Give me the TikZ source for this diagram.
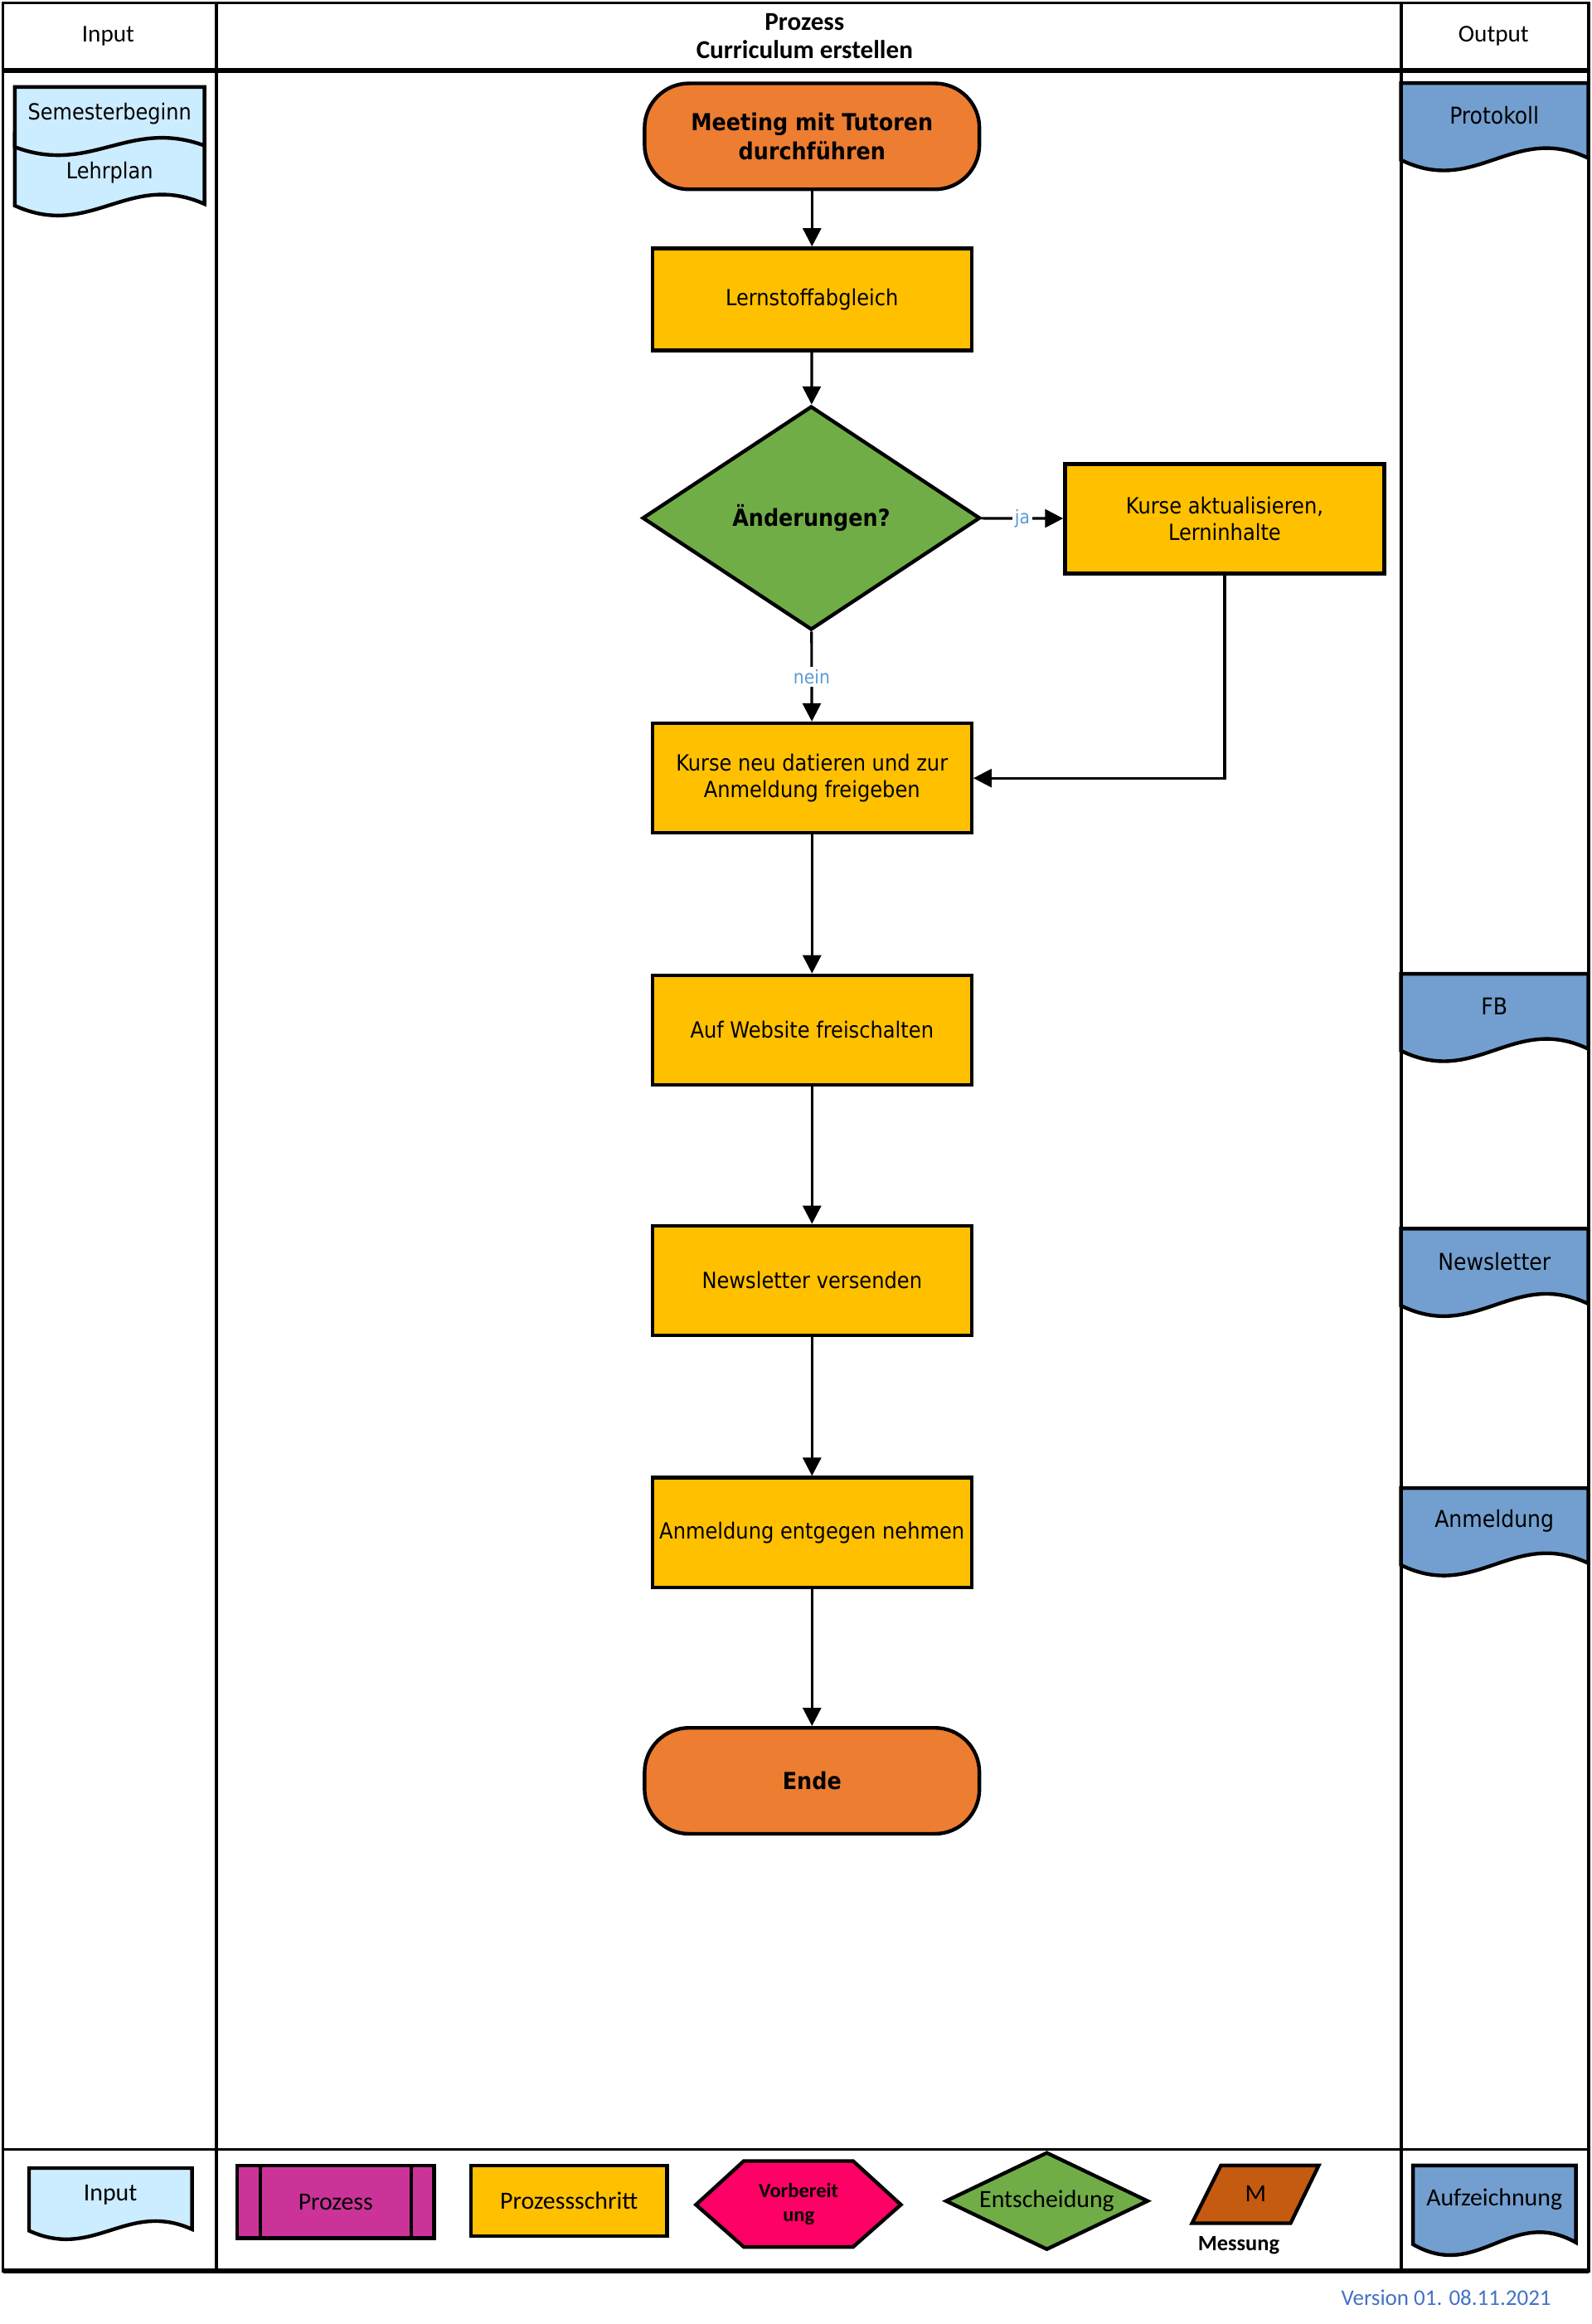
\documentclass[tikz,border=0pt]{standalone}
\usepackage{fontspec}
\setmainfont{Carlito}
\newfontfamily\tahoma{DejaVu Sans Condensed}
\usetikzlibrary{shapes.geometric,arrows.meta}

\definecolor{termorange}{HTML}{ED7D31}
\definecolor{stepyellow}{HTML}{FFC000}
\definecolor{decgreen}{HTML}{70AD47}
\definecolor{inblue}{HTML}{CCECFF}
\definecolor{outblue}{HTML}{729FCF}
\definecolor{prozmagenta}{HTML}{CC3399}
\definecolor{vorbpink}{HTML}{FF0066}
\definecolor{messbrown}{HTML}{C55A11}
\definecolor{lblblue}{HTML}{5B9BD5}
\definecolor{verblue}{HTML}{4472C4}

\begin{document}
\begin{tikzpicture}[x=0.02cm,y=-0.02cm,
  every node/.style={inner sep=0pt},
  pics/docshape/.style 2 args={code={
    \path[pic actions] (0,0) -- (#1,0) -- (#1,{0.86*#2})
      .. controls ({0.6*#1},{0.45*#2}) and ({0.4*#1},{1.3*#2}) .. (0,{0.88*#2}) -- cycle;}},
  indoc/.style={draw,fill=inblue,line width=1.4pt},
  outdoc/.style={draw,fill=outblue,line width=1.4pt},
  doctext/.style={font=\tahoma\fontsize{8.5}{10}\selectfont},
  head/.style={font=\fontsize{9.3}{10.6}\selectfont,align=center},
  term/.style={draw,fill=termorange,line width=1.4pt,rounded corners=0.6cm,
    minimum width=4.52cm,minimum height=1.43cm,align=center,
    font=\tahoma\bfseries\fontsize{9}{11.4}\selectfont},
  stepbox/.style={draw,fill=stepyellow,line width=1.4pt,minimum width=4.31cm,
    minimum height=1.48cm,align=center,font=\tahoma\fontsize{8.55}{10.2}\selectfont},
  decision/.style={draw,fill=decgreen,line width=1.4pt,diamond,minimum width=4.56cm,
    minimum height=3.02cm,font=\tahoma\bfseries\fontsize{9}{11}\selectfont},
  conn/.style={line width=1pt,-{Triangle[length=7pt,width=7pt]}},
  lbl/.style={fill=white,text=lblblue,inner sep=1pt,font=\tahoma\fontsize{7.2}{8}\selectfont},
  legtext/.style={font=\fontsize{9.5}{11}\selectfont}]

\useasboundingbox (0,0) rectangle (1074,1568);

% lanes
\draw[line width=1.2pt] (2,2) rectangle (1072,1532);
\draw[line width=1.2pt] (146,2) -- (146,1532) (945.5,2) -- (945.5,1532);
\draw[line width=1.8pt] (2,47.5) -- (1072,47.5);
\draw[line width=1pt] (2,1450) -- (1072,1450);
\draw[line width=1.8pt] (2,1532) -- (1072,1532);

\node[head] (hinput) at (73,24.5) {Input};
\node[head,font=\bfseries\fontsize{9.9}{10.8}\selectfont] (hprozess) at (543,24.5) {Prozess\\Curriculum erstellen};
\node[head] (houtput) at (1008,24.5) {Output};

% input
\pic[indoc] at (10,90) {docshape={128}{55.4}};
\pic[indoc] at (10,58.7) {docshape={128}{46}};
\node[doctext] (semester) at (74,76.5) {Semesterbeginn};
\node[doctext] (lehrplan) at (74,116.5) {Lehrplan};

% output
\foreach \ytop/\name/\txt in {56/protokoll/Protokoll, 657/fb/FB, 829/newsletter/Newsletter, 1004/anmeldedoc/Anmeldung}{
  \pic[outdoc] at (945.5,\ytop) {docshape={126.5}{59}};
  \node[doctext,font=\tahoma\fontsize{8.9}{10}\selectfont] (\name) at (1008.5,{\ytop+22}) {\txt};
}

% process
\node[term] (meeting) at (548,92) {Meeting mit Tutoren\\durchführen};
\node[stepbox,minimum height=1.38cm] (abgleich) at (548,202) {Lernstoffabgleich};
\node[decision] (aenderung) at (547.5,349.5) {Änderungen?};
\node[stepbox] (aktual) at (826.5,350) {Kurse aktualisieren,\\Lerninhalte};
\node[stepbox] (datieren) at (548,525) {Kurse neu datieren und zur\\Anmeldung freigeben};
\node[stepbox] (website) at (548,695) {Auf Website freischalten};
\node[stepbox] (versand) at (548,864) {Newsletter versenden};
\node[stepbox] (anmeldung) at (548,1034) {Anmeldung entgegen nehmen};
\node[term] (ende) at (548,1201.5) {Ende};

\draw[conn] (meeting) -- (abgleich);
\draw[conn] (abgleich) -- (aenderung);
\draw[conn] (aenderung) -- node[lbl] {ja} (aktual);
\draw[conn] (aenderung) -- node[lbl] {nein} (datieren);
\draw[conn] (aktual) |- (datieren);
\draw[conn] (datieren) -- (website);
\draw[conn] (website) -- (versand);
\draw[conn] (versand) -- (anmeldung);
\draw[conn] (anmeldung) -- (ende);

% legend
\pic[indoc] at (19.6,1462.8) {docshape={110}{48}};
\node[legtext] (lginput) at (74.5,1481) {Input};
\node[draw,fill=prozmagenta,line width=1.4pt,minimum width=2.66cm,minimum height=0.98cm,legtext] (lgprozess) at (226.5,1485.5) {Prozess};
\draw[line width=1.4pt] ([xshift=0.34cm]lgprozess.north west) -- ([xshift=0.34cm]lgprozess.south west);
\draw[line width=1.4pt] ([xshift=-0.33cm]lgprozess.north east) -- ([xshift=-0.33cm]lgprozess.south east);
\node[stepbox,minimum width=2.65cm,minimum height=0.95cm,legtext] (lgschritt) at (384,1485) {Prozessschritt};
\filldraw[fill=vorbpink,line width=1.4pt] (469.7,1487.5) -- (502,1458) -- (575.7,1458) -- (608,1487.5) -- (575.7,1516) -- (502,1516) -- cycle;
\node[align=center,font=\bfseries\fontsize{7.8}{9.1}\selectfont] (lgvorb) at (539,1487) {Vorbereit\\ung};
\node[decision,aspect=2,minimum width=2.74cm,minimum height=1.32cm,legtext] (lgentsch) at (706.5,1485) {Entscheidung};
\filldraw[fill=messbrown,line width=1.4pt] (804.5,1500) -- (824,1461) -- (890,1461) -- (871,1500) -- cycle;
\node[legtext] (lgmess) at (847.5,1480) {M};
\node[font=\bfseries\fontsize{8.4}{10}\selectfont] (lgmessung) at (836,1515) {Messung};
\pic[outdoc] at (953.6,1461) {docshape={110}{60.5}};
\node[legtext] (lgaufz) at (1008.5,1484) {Aufzeichnung};

\node[text=verblue,font=\fontsize{8.6}{10}\selectfont] (version) at (976,1550.5) {Version 01. 08.11.2021};
\end{tikzpicture}
\end{document}
